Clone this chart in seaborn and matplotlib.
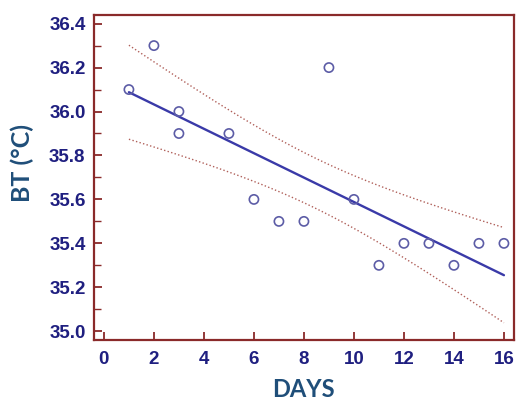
import matplotlib
matplotlib.use("Agg")
import matplotlib.pyplot as plt
import seaborn as sns
import numpy as np
import pandas as pd
from matplotlib.ticker import MultipleLocator

days = [1, 2, 3, 3, 5, 6, 7, 8, 9, 10, 11, 12, 13, 14, 15, 16]
bt = [36.1, 36.3, 36.0, 35.9, 35.9, 35.6, 35.5, 35.5, 36.2, 35.6,
      35.3, 35.4, 35.4, 35.3, 35.4, 35.4]
x_ticks = [0, 2, 4, 6, 8, 10, 12, 14, 16]
y_ticks = [35.0, 35.2, 35.4, 35.6, 35.8, 36.0, 36.2, 36.4]

sns.set_style("white")
plt.rcParams["font.family"] = ["Liberation Sans", "DejaVu Sans"]

df = pd.DataFrame({"days": days, "bt": bt})

# 95% confidence band of the fitted line
x = np.array(days, dtype=float)
y = np.array(bt)
n = len(x)
slope, intercept = np.polyfit(x, y, 1)
resid = y - (slope * x + intercept)
s = np.sqrt(np.sum(resid ** 2) / (n - 2))
sxx = np.sum((x - x.mean()) ** 2)
xs = np.linspace(x.min(), x.max(), 60)
fit = slope * xs + intercept
half = 2.145 * s * np.sqrt(1 / n + (xs - x.mean()) ** 2 / sxx)
band = pd.DataFrame({"x": xs, "lo": fit - half, "hi": fit + half})

fig = plt.figure(figsize=(5.16, 4.01), dpi=100)
ax = fig.add_axes([0.182, 0.152, 0.814, 0.811])

band_col = "#b0605a"
sns.lineplot(data=band, x="x", y="hi", ax=ax, color=band_col, lw=1.0, linestyle=":")
sns.lineplot(data=band, x="x", y="lo", ax=ax, color=band_col, lw=1.0, linestyle=":")
sns.regplot(data=df, x="days", y="bt", ax=ax, ci=None, scatter=False,
            line_kws={"color": "#3a3aa8", "lw": 1.7})
sns.scatterplot(data=df, x="days", y="bt", ax=ax, s=44, facecolor="none",
                edgecolor="#5c5ca6", linewidth=1.2, zorder=5)

ax.set_xlim(-0.4, 16.4)
ax.set_ylim(34.96, 36.44)
ax.set_xticks(x_ticks)
ax.set_yticks(y_ticks)
ax.set_xticklabels([str(t) for t in x_ticks])
ax.set_yticklabels([f"{t:.1f}" for t in y_ticks])
ax.yaxis.set_minor_locator(MultipleLocator(0.1))

spine_col = "#8a2a2a"
for sp in ax.spines.values():
    sp.set_color(spine_col)
    sp.set_linewidth(1.6)

ax.tick_params(axis="both", which="major", direction="in", length=6, width=1.3,
               color=spine_col, labelsize=13.5, labelcolor="#1f1f80")
ax.tick_params(axis="y", which="major", pad=6)
ax.tick_params(axis="x", which="major", pad=8)
ax.tick_params(axis="y", which="minor", direction="in", length=5, width=1.0,
               color=spine_col, left=True)
ax.tick_params(axis="both", bottom=True, left=True, top=False, right=False)
for lab in ax.get_xticklabels() + ax.get_yticklabels():
    lab.set_fontweight("bold")

ax.set_xlabel("DAYS", fontsize=17, fontweight="bold", color="#1f4e79",
              family=["Lato", "DejaVu Sans"])
ax.xaxis.set_label_coords(0.5, -0.118)
ax.set_ylabel("BT (°C)", fontsize=18, fontweight="bold", color="#1f4e79",
              family=["Lato", "DejaVu Sans"])
ax.yaxis.set_label_coords(-0.143, 0.543)

fig.savefig("out.png", dpi=100)
plt.close(fig)
